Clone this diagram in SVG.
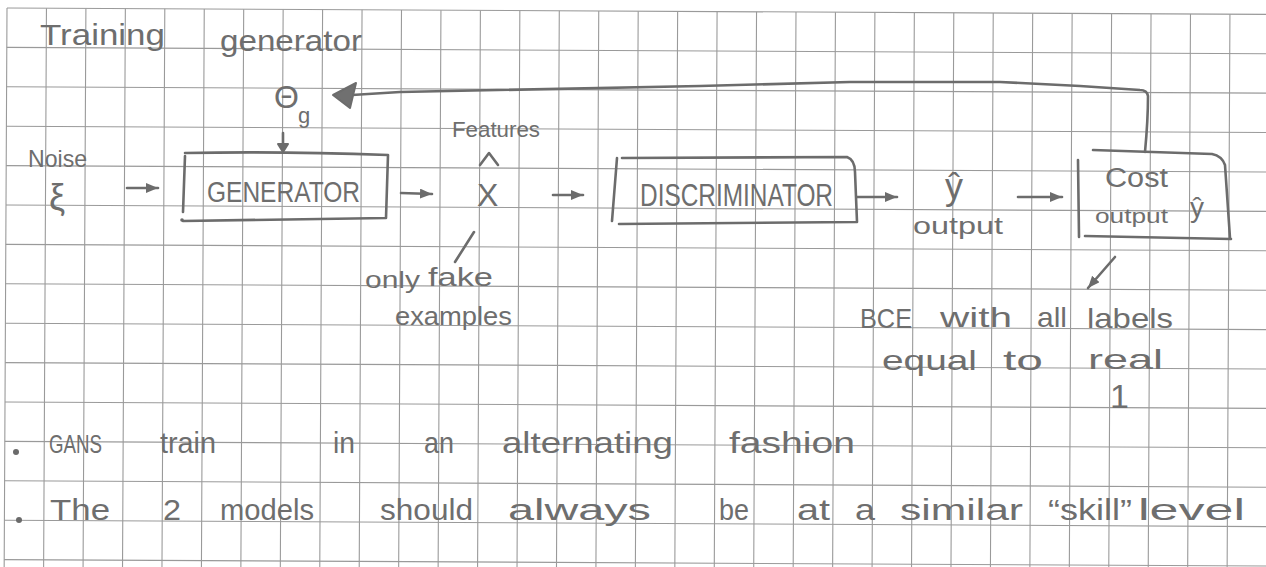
<svg xmlns="http://www.w3.org/2000/svg" width="1266" height="567" viewBox="0 0 1266 567">
  <style>
    .grid { stroke: #9a9a9a; stroke-width: 1.1; fill: none; }
    .ink { stroke: #6c6c6c; stroke-width: 2.6; fill: none; stroke-linecap: round; stroke-linejoin: round; }
    .hw { font-family: "Liberation Sans", "DejaVu Sans", sans-serif; fill: #6e6e6e; }
    .dot { fill: #6a6a6a; }
  </style>
  <defs>
    <marker id="head" markerUnits="userSpaceOnUse" markerWidth="14" markerHeight="12" refX="12" refY="5" orient="auto">
      <path d="M0 0 L12 5 L0 10 z" fill="#6c6c6c"/>
    </marker>
  </defs>

  <rect width="1266" height="567" fill="#ffffff"/>

  <!-- squared paper, slightly tilted -->
  <g id="paper" transform="rotate(0.29 7 8)">
    <path class="grid" d="M7 8V580M46.45 8V580M85.9 8V580M125.35 8V580M164.8 8V580M204.25 8V580M243.7 8V580M283.15 8V580M322.6 8V580M362.05 8V580M401.5 8V580M440.95 8V580M480.4 8V580M519.85 8V580M559.3 8V580M598.75 8V580M638.2 8V580M677.65 8V580M717.1 8V580M756.55 8V580M796 8V580M835.45 8V580M874.9 8V580M914.35 8V580M953.8 8V580M993.25 8V580M1032.7 8V580M1072.15 8V580M1111.6 8V580M1151.05 8V580M1190.5 8V580M1229.95 8V580"/>
    <path class="grid" d="M7 8H1280M7 47.4H1280M7 86.8H1280M7 126.2H1280M7 165.6H1280M7 205H1280M7 244.4H1280M7 283.8H1280M7 323.2H1280M7 362.6H1280M7 402H1280M7 441.4H1280M7 480.8H1280M7 520.2H1280M7 559.6H1280"/>
  </g>

  <!-- title -->
  <g id="title">
    <text class="hw" x="40" y="45" font-size="30" textLength="125" lengthAdjust="spacingAndGlyphs">Training</text>
    <text class="hw" x="220" y="51" font-size="29" textLength="142" lengthAdjust="spacingAndGlyphs">generator</text>
  </g>

  <!-- generator parameters -->
  <g id="theta-g">
    <text class="hw" x="274" y="108" font-size="32">Θ</text>
    <text class="hw" x="298" y="123" font-size="22">g</text>
  </g>

  <!-- noise input -->
  <g id="noise">
    <text class="hw" x="28" y="167" font-size="24" textLength="59" lengthAdjust="spacingAndGlyphs">Noise</text>
    <text class="hw" x="49" y="210" font-size="36">ξ</text>
  </g>

  <!-- generator block -->
  <g id="generator">
    <path class="ink" d="M185 156 L183 212"/>
    <path class="ink" d="M185 153 Q280 151 388 155 L386 218 L183 221"/>
    <circle class="dot" cx="182" cy="220" r="1.8"/>
    <text class="hw" x="207" y="202" font-size="30" textLength="153" lengthAdjust="spacingAndGlyphs">GENERATOR</text>
  </g>

  <!-- generated features -->
  <g id="features">
    <text class="hw" x="452" y="137" font-size="22" textLength="88" lengthAdjust="spacingAndGlyphs">Features</text>
    <path class="ink" d="M480 165 L489 153 L498 165"/>
    <text class="hw" x="477" y="206" font-size="32">X</text>
  </g>

  <!-- note under features -->
  <g id="fake-note">
    <path class="ink" d="M474 232 L455 262"/>
    <text class="hw" x="365" y="288" font-size="24" textLength="55" lengthAdjust="spacingAndGlyphs">only</text>
    <text class="hw" x="428" y="286" font-size="26" textLength="65" lengthAdjust="spacingAndGlyphs">fake</text>
    <text class="hw" x="395" y="325" font-size="25" textLength="117" lengthAdjust="spacingAndGlyphs">examples</text>
  </g>

  <!-- discriminator block -->
  <g id="discriminator">
    <path class="ink" d="M617 158 L612 221"/>
    <path class="ink" d="M622 158 L847 157 Q855 160 855 172 L857 222 L619 224"/>
    <text class="hw" x="640" y="206" font-size="32" textLength="193" lengthAdjust="spacingAndGlyphs">DISCRIMINATOR</text>
  </g>

  <!-- prediction -->
  <g id="y-hat">
    <text class="hw" x="945" y="199" font-size="36">ŷ</text>
    <text class="hw" x="913" y="234" font-size="24" textLength="90" lengthAdjust="spacingAndGlyphs">output</text>
  </g>

  <!-- cost block -->
  <g id="cost">
    <path class="ink" d="M1078 160 L1079 237"/>
    <path class="ink" d="M1093 150 L1212 154 Q1222 156 1225 165 L1230 238"/>
    <path class="ink" d="M1085 236 L1231 239"/>
    <text class="hw" x="1105" y="187" font-size="27" textLength="63" lengthAdjust="spacingAndGlyphs">Cost</text>
    <text class="hw" x="1095" y="223" font-size="20" textLength="73" lengthAdjust="spacingAndGlyphs">output</text>
    <text class="hw" x="1190" y="217" font-size="28">ŷ</text>
  </g>

  <!-- label note -->
  <g id="bce-note">
    <text class="hw" x="860" y="328" font-size="28" textLength="52" lengthAdjust="spacingAndGlyphs">BCE</text>
    <text class="hw" x="940" y="327" font-size="28" textLength="72" lengthAdjust="spacingAndGlyphs">with</text>
    <text class="hw" x="1037" y="327" font-size="28" textLength="30" lengthAdjust="spacingAndGlyphs">all</text>
    <text class="hw" x="1087" y="328" font-size="28" textLength="86" lengthAdjust="spacingAndGlyphs">labels</text>
    <text class="hw" x="882" y="370" font-size="28" textLength="95" lengthAdjust="spacingAndGlyphs">equal</text>
    <text class="hw" x="1003" y="370" font-size="28" textLength="40" lengthAdjust="spacingAndGlyphs">to</text>
    <text class="hw" x="1088" y="369" font-size="28" textLength="75" lengthAdjust="spacingAndGlyphs">real</text>
    <text class="hw" x="1110" y="408" font-size="34">1</text>
  </g>

  <!-- connectors -->
  <g id="connectors">
    <path class="ink" d="M127 188 L158 188" marker-end="url(#head)"/>
    <path class="ink" d="M401 193 L432 194" marker-end="url(#head)"/>
    <path class="ink" d="M553 195 L583 195" marker-end="url(#head)"/>
    <path class="ink" d="M857 197 L897 197" marker-end="url(#head)"/>
    <path class="ink" d="M1018 197 L1062 197" marker-end="url(#head)"/>
    <path class="ink" d="M1115 257 L1088 288" marker-end="url(#head)"/>
    <!-- feedback from cost to generator parameters -->
    <path class="ink" d="M1145 152 Q1148 120 1148 96 Q1147 90 1140 90 L1080 86 L1000 82 L850 82 L700 86 L400 92 L352 95"/>
    <polygon points="333,95 356,83 350,108" fill="#707070" stroke="#6c6c6c" stroke-width="2" stroke-linejoin="round"/>
    <!-- parameters into generator -->
    <path class="ink" d="M283 133 L283 146"/>
    <polygon points="278,144 288,144 283,152" fill="#6c6c6c" stroke="#6c6c6c" stroke-width="2" stroke-linejoin="round"/>
  </g>

  <!-- bullet notes -->
  <g id="bullets">
    <circle class="dot" cx="16" cy="452" r="3"/>
    <text class="hw" x="49" y="453" font-size="26" textLength="53" lengthAdjust="spacingAndGlyphs">GANS</text>
    <text class="hw" x="160" y="453" font-size="30" textLength="56" lengthAdjust="spacingAndGlyphs">train</text>
    <text class="hw" x="333" y="453" font-size="30" textLength="22" lengthAdjust="spacingAndGlyphs">in</text>
    <text class="hw" x="424" y="453" font-size="30" textLength="30" lengthAdjust="spacingAndGlyphs">an</text>
    <text class="hw" x="502" y="453" font-size="30" textLength="171" lengthAdjust="spacingAndGlyphs">alternating</text>
    <text class="hw" x="729" y="453" font-size="30" textLength="126" lengthAdjust="spacingAndGlyphs">fashion</text>

    <circle class="dot" cx="19" cy="520" r="3"/>
    <text class="hw" x="50" y="520" font-size="30" textLength="60" lengthAdjust="spacingAndGlyphs">The</text>
    <text class="hw" x="163" y="520" font-size="30" textLength="18" lengthAdjust="spacingAndGlyphs">2</text>
    <text class="hw" x="220" y="520" font-size="30" textLength="94" lengthAdjust="spacingAndGlyphs">models</text>
    <text class="hw" x="380" y="520" font-size="30" textLength="93" lengthAdjust="spacingAndGlyphs">should</text>
    <text class="hw" x="508" y="520" font-size="30" textLength="143" lengthAdjust="spacingAndGlyphs">always</text>
    <text class="hw" x="719" y="520" font-size="30" textLength="30" lengthAdjust="spacingAndGlyphs">be</text>
    <text class="hw" x="797" y="520" font-size="30" textLength="33" lengthAdjust="spacingAndGlyphs">at</text>
    <text class="hw" x="855" y="520" font-size="30" textLength="20" lengthAdjust="spacingAndGlyphs">a</text>
    <text class="hw" x="900" y="520" font-size="30" textLength="123" lengthAdjust="spacingAndGlyphs">similar</text>
    <text class="hw" x="1048" y="520" font-size="30" textLength="84" lengthAdjust="spacingAndGlyphs">“skill”</text>
    <text class="hw" x="1138" y="520" font-size="30" textLength="107" lengthAdjust="spacingAndGlyphs">level</text>
  </g>
</svg>
